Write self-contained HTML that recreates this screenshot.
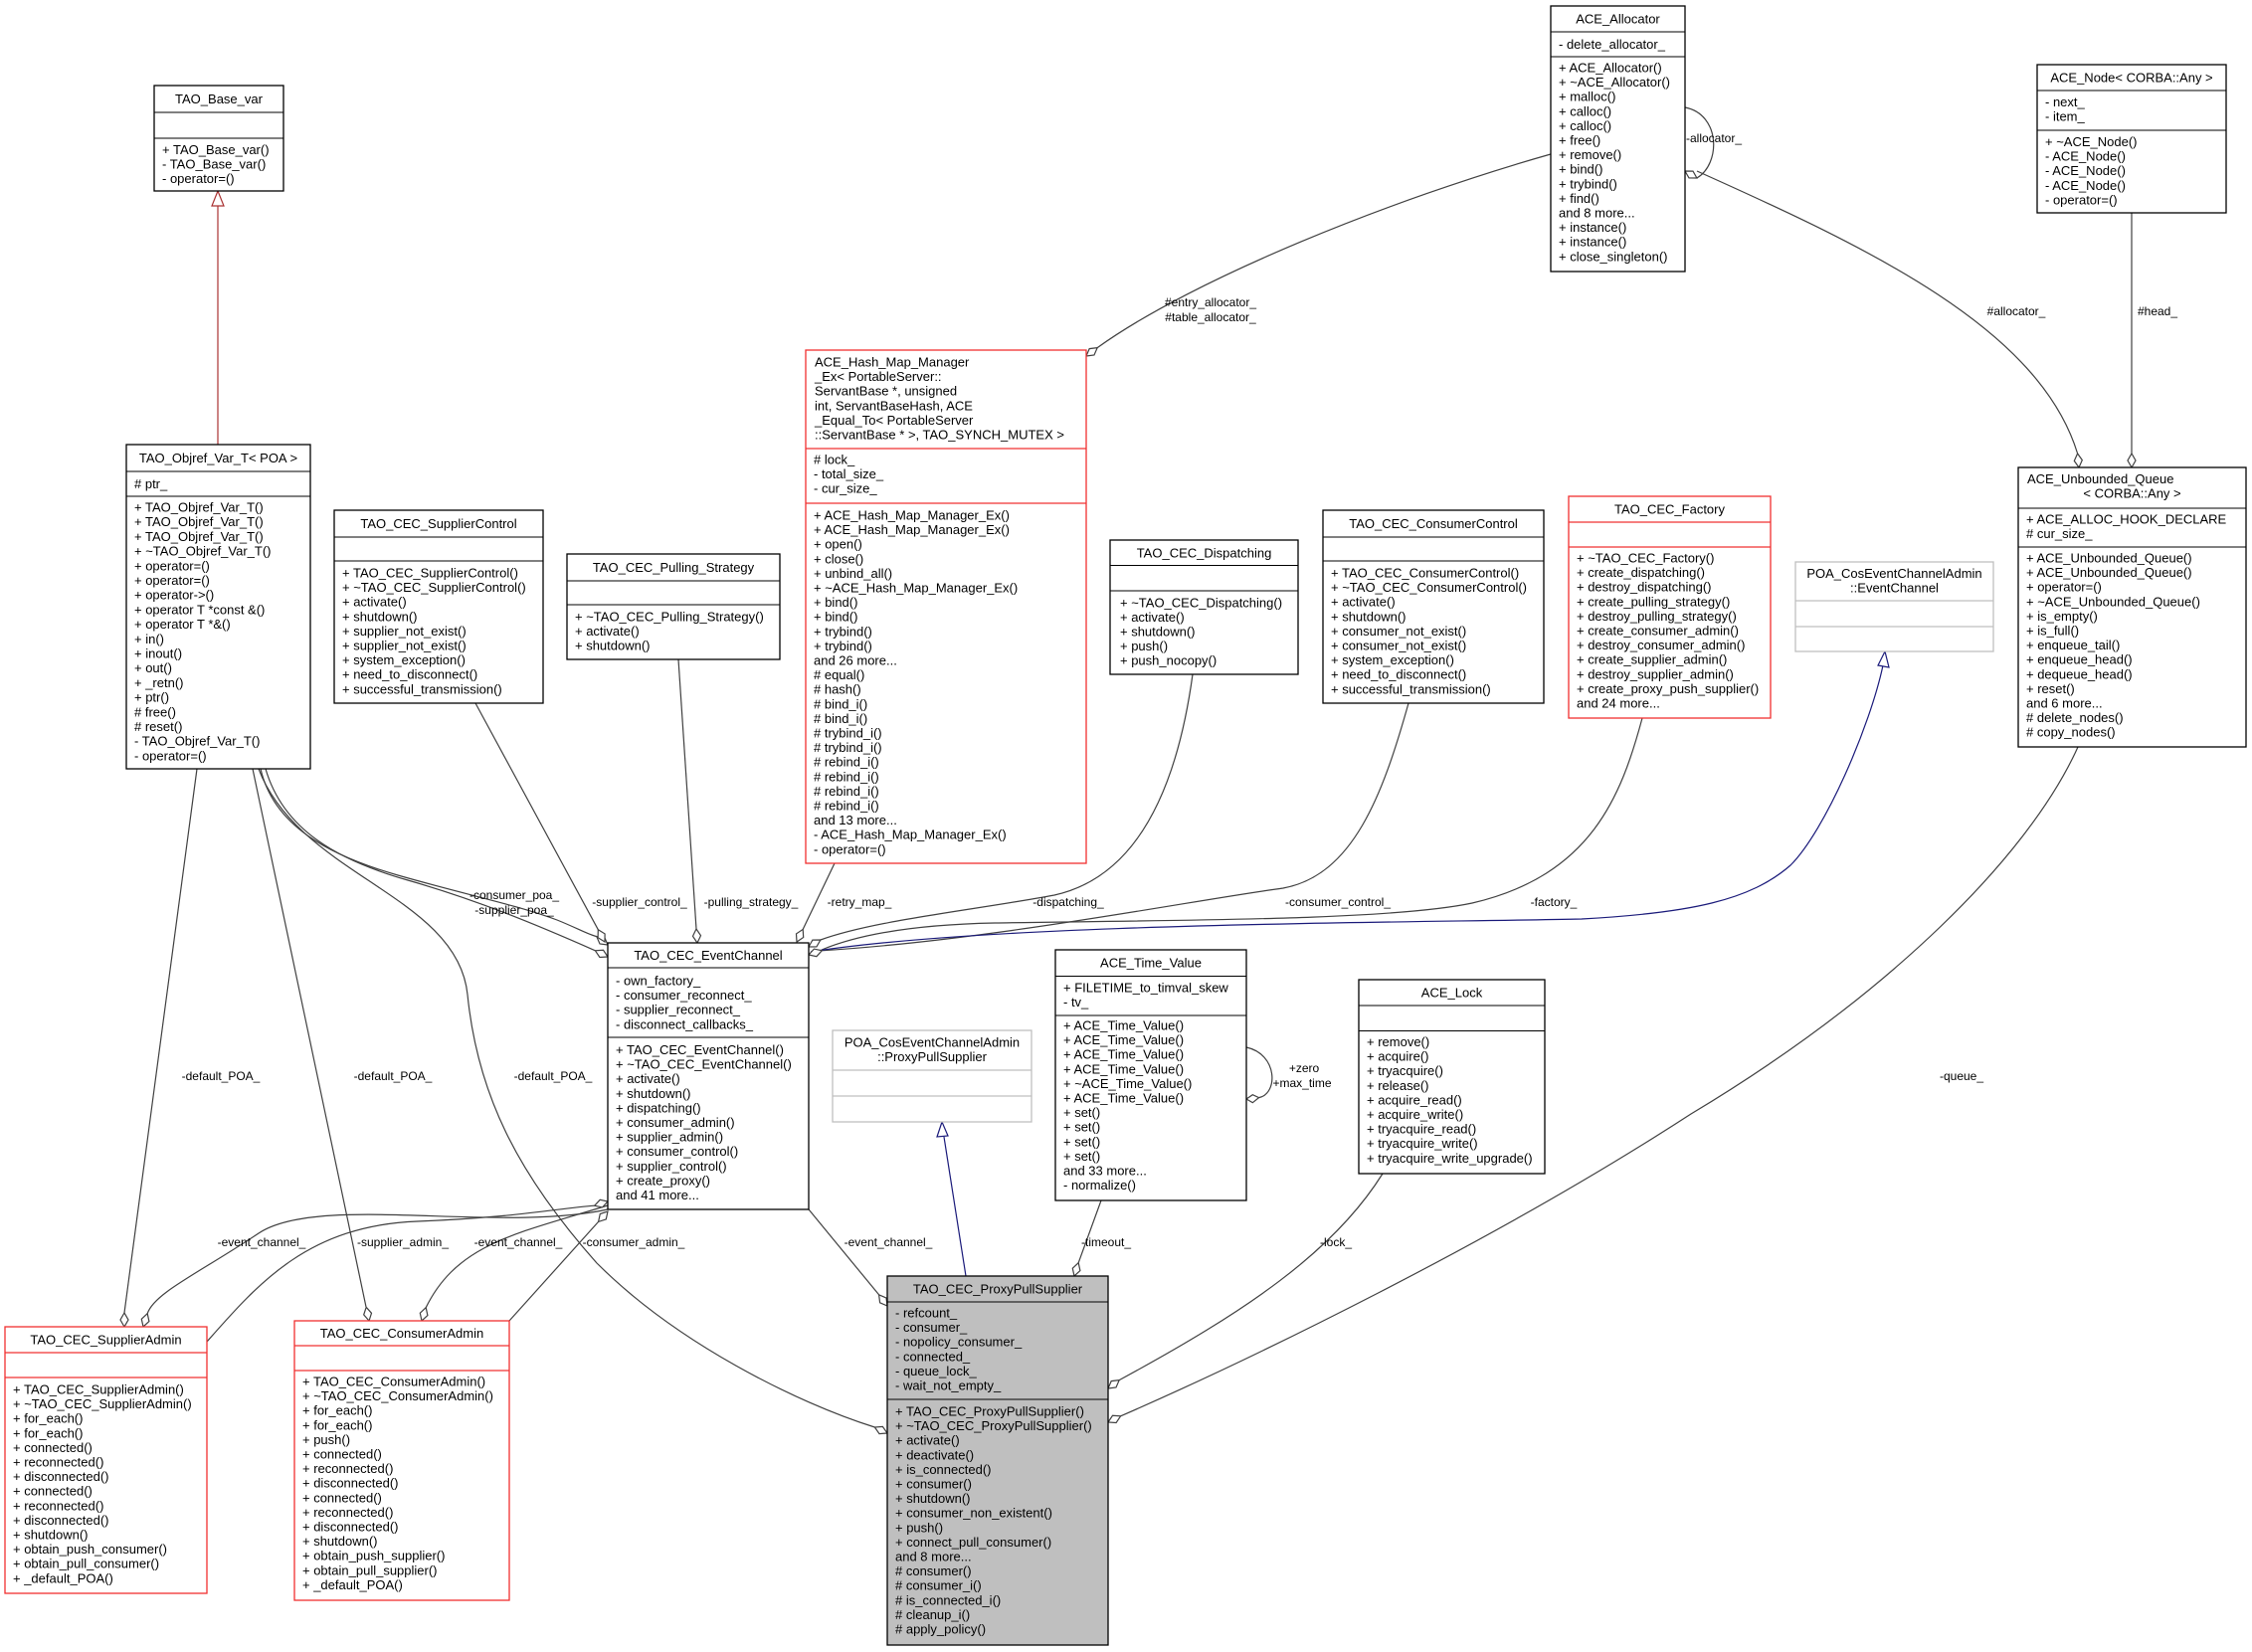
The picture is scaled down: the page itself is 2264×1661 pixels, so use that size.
<!DOCTYPE html>
<html><head><meta charset="utf-8"><style>
html,body{margin:0;padding:0;background:#fff}
svg text{font-family:"Liberation Sans",Arial,sans-serif;font-size:13px;fill:#000}
.e{fill:none;stroke:#404040;stroke-width:1.2}
.d{fill:#fff;stroke:#404040;stroke-width:1.2}
.b{fill:#fff;stroke:#000;stroke-width:1.3}
.r{fill:#fff;stroke:#f03030;stroke-width:1.3}
.g{fill:#fff;stroke:#bfbfbf;stroke-width:1.3}
.l{font-size:12px}
</style></head><body>
<svg width="2264" height="1656" viewBox="0 0 2264 1656" xmlns="http://www.w3.org/2000/svg">
<!-- edges -->
<path class="e" d="M262,773 C275,830 330,860 400,880 C470,900 520,910 560,925 C580,933 592,940 599.8,941.6"/>
<path class="e" d="M267,773 C285,835 340,865 410,885 C480,905 540,930 598.4,955.8"/>
<path class="e" d="M198,773 L125,1320"/>
<path class="e" d="M254,773 L368,1314"/>
<path class="e" d="M260,773 C300,880 460,900 470,1000 C480,1100 520,1180 600,1270 C680,1350 800,1410 879.4,1435"/>
<path class="e" d="M478,707 L601.3,934.7"/>
<path class="e" d="M682,663 L700,934"/>
<path class="e" d="M839,868 L807.2,934.4"/>
<path class="e" d="M1199,678 C1185,780 1150,880 1060,900 C980,915 880,925 824.9,945"/>
<path class="e" d="M1416,707 C1390,800 1360,880 1290,893 C1200,905 1000,945 826,955.8"/>
<path class="e" d="M1651,722 C1630,800 1600,880 1480,908 C1400,925 1200,925 1000,928 C900,930 850,945 826,955"/>
<path d="M815,957 C1000,928 1400,928 1590,924 C1700,918 1760,905 1800,870 C1835,835 1880,730 1893,669" fill="none" stroke="#1a1a7a" stroke-width="1.2"/>
<path class="e" d="M813,1216 L883.6,1301.8"/>
<path class="e" d="M1107,1207 L1084.2,1269.7"/>
<path class="e" d="M1390,1180 C1340,1260 1250,1320 1125.2,1387.6"/>
<path class="e" d="M2089,751 C2040,860 1900,1000 1700,1120 C1500,1250 1250,1370 1126.6,1423.8"/>
<path class="e" d="M1253,1053 C1285,1060 1285,1100 1265.6,1103.6"/>
<path d="M971,1283 L949,1143" fill="none" stroke="#1a1a7a" stroke-width="1.2"/>
<path class="e" d="M611,1216 C500,1240 320,1200 260,1240 C200,1280 155,1300 148.2,1320.7"/>
<path class="e" d="M208,1349 C260,1290 310,1232 420,1228 C520,1224 560,1215 597.7,1212.2"/>
<path class="e" d="M611,1212 C520,1240 460,1250 428.2,1314.7"/>
<path class="e" d="M512,1328 L601.6,1228.4"/>
<path class="e" d="M1559,155 C1400,200 1200,280 1103.2,349.6"/>
<path class="e" d="M1694,108 C1730,115 1730,165 1705.9,179"/>
<path class="e" d="M1706,172 C1880,250 2050,330 2088.6,456"/>
<path class="e" d="M2143,214 L2143,456"/>
<path d="M219,447 L219,207" fill="none" stroke="#a33" stroke-width="1.2"/>
<!-- inheritance arrows -->
<polygon points="219,192 213,207 225,207" fill="#fff" stroke="#a33" stroke-width="1.2"/>
<polygon points="1895,655 1888,669 1899,671" fill="#fff" stroke="#1a1a7a" stroke-width="1.2"/>
<polygon points="947,1128 942,1143 953,1142" fill="#fff" stroke="#1a1a7a" stroke-width="1.2"/>
<!-- diamonds -->
<polygon class="d" points="611,950 603,949 599.8,941.6 607.8,942.6"/>
<polygon class="d" points="611,962 602.9,962.5 598.4,955.8 606.5,955.3"/>
<polygon class="d" points="608,947 601.1,942.7 601.3,934.7 608.1,938.9"/>
<polygon class="d" points="701,948 696.5,941.3 700,934 704.5,940.7"/>
<polygon class="d" points="801,947 800.5,938.9 807.2,934.4 807.7,942.5"/>
<polygon class="d" points="813,952 816.9,945.1 824.9,945 820.9,951.9"/>
<polygon class="d" points="813,960 818.4,954.1 826.3,955.8 820.9,961.7"/>
<polygon class="d" points="125,1334 121,1327 125,1320 129,1327"/>
<polygon class="d" points="144,1334 142.3,1326.2 148.2,1320.7 149.9,1328.6"/>
<polygon class="d" points="371,1328 365.7,1321.9 368.2,1314.3 373.5,1320.3"/>
<polygon class="d" points="424,1328 422.3,1320.2 428.2,1314.7 429.9,1322.6"/>
<polygon class="d" points="611,1208 605.6,1213.9 597.7,1212.2 603.2,1206.3"/>
<polygon class="d" points="611,1218 609.3,1225.9 601.6,1228.4 603.3,1220.5"/>
<polygon class="d" points="892,1441 884,1441.6 879.4,1435 887.4,1434.4"/>
<polygon class="d" points="892,1313 884.6,1309.8 883.6,1301.8 891,1305"/>
<polygon class="d" points="1080,1283 1078.3,1275.2 1084.2,1269.7 1085.9,1277.6"/>
<polygon class="d" points="1114,1396 1117.2,1388.6 1125.2,1387.6 1122,1395"/>
<polygon class="d" points="1114,1430 1118.5,1423.3 1126.6,1423.8 1122.1,1430.5"/>
<polygon class="d" points="1253,1105 1259.3,1100.7 1265.6,1103.6 1259.3,1108.7"/>
<polygon class="d" points="1092,358 1095.2,350.6 1103.2,349.6 1100,357"/>
<polygon class="d" points="1694,172 1702,172.1 1705.9,179 1698,178.9"/>
<polygon class="d" points="2090,470 2085.3,463.4 2088.6,456 2093.3,462.6"/>
<polygon class="d" points="2143,470 2139,463 2143,456 2147,463"/>
<!-- edge labels -->
<g class="l" text-anchor="middle">
<text class="l" x="517" y="904">-consumer_poa_</text>
<text class="l" x="517" y="919">-supplier_poa_</text>
<text class="l" x="643" y="911">-supplier_control_</text>
<text class="l" x="755" y="911">-pulling_strategy_</text>
<text class="l" x="864" y="911">-retry_map_</text>
<text class="l" x="1074" y="911">-dispatching_</text>
<text class="l" x="1345" y="911">-consumer_control_</text>
<text class="l" x="1562" y="911">-factory_</text>
<text class="l" x="222" y="1086">-default_POA_</text>
<text class="l" x="395" y="1086">-default_POA_</text>
<text class="l" x="556" y="1086">-default_POA_</text>
<text class="l" x="263" y="1253">-event_channel_</text>
<text class="l" x="405" y="1253">-supplier_admin_</text>
<text class="l" x="521" y="1253">-event_channel_</text>
<text class="l" x="637" y="1253">-consumer_admin_</text>
<text class="l" x="893" y="1253">-event_channel_</text>
<text class="l" x="1112" y="1253">-timeout_</text>
<text class="l" x="1343" y="1253">-lock_</text>
<text class="l" x="1972" y="1086">-queue_</text>
<text class="l" x="1311" y="1078">+zero</text>
<text class="l" x="1309" y="1093">+max_time</text>
<text class="l" x="1217" y="308">#entry_allocator_</text>
<text class="l" x="1217" y="323">#table_allocator_</text>
<text class="l" x="2027" y="317">#allocator_</text>
<text class="l" x="2169" y="317">#head_</text>
<text class="l" x="1723" y="143">-allocator_</text>
</g>

<!-- TAO_Base_var -->
<rect class="b" x="155" y="86" width="130" height="106"/><line x1="155" y1="113" x2="285" y2="113" stroke="#000"/><line x1="155" y1="139" x2="285" y2="139" stroke="#000"/>
<text x="220" y="104" text-anchor="middle">TAO_Base_var</text>
<text x="163" y="155">+ TAO_Base_var()</text><text x="163" y="169.6">- TAO_Base_var()</text><text x="163" y="184.2">- operator=()</text>

<!-- TAO_Objref_Var_T -->
<rect class="b" x="127" y="447" width="185" height="326"/><line x1="127" y1="474" x2="312" y2="474" stroke="#000"/><line x1="127" y1="499" x2="312" y2="499" stroke="#000"/>
<text x="219.5" y="465" text-anchor="middle">TAO_Objref_Var_T&lt; POA &gt;</text>
<text x="135" y="491"># ptr_</text>
<g transform="translate(135,514.5)">
<text y="0">+ TAO_Objref_Var_T()</text><text y="14.7">+ TAO_Objref_Var_T()</text><text y="29.4">+ TAO_Objref_Var_T()</text><text y="44.1">+ ~TAO_Objref_Var_T()</text><text y="58.8">+ operator=()</text><text y="73.5">+ operator=()</text><text y="88.2">+ operator-&gt;()</text><text y="102.9">+ operator T *const &amp;()</text><text y="117.6">+ operator T *&amp;()</text><text y="132.3">+ in()</text><text y="147">+ inout()</text><text y="161.7">+ out()</text><text y="176.4">+ _retn()</text><text y="191.1">+ ptr()</text><text y="205.8"># free()</text><text y="220.5"># reset()</text><text y="235.2">- TAO_Objref_Var_T()</text><text y="249.9">- operator=()</text>
</g>

<!-- SupplierControl -->
<rect class="b" x="336" y="513" width="210" height="194"/><line x1="336" y1="540" x2="546" y2="540" stroke="#000"/><line x1="336" y1="564" x2="546" y2="564" stroke="#000"/>
<text x="441" y="531" text-anchor="middle">TAO_CEC_SupplierControl</text>
<g transform="translate(344,580.5)">
<text y="0">+ TAO_CEC_SupplierControl()</text><text y="14.6">+ ~TAO_CEC_SupplierControl()</text><text y="29.2">+ activate()</text><text y="43.8">+ shutdown()</text><text y="58.4">+ supplier_not_exist()</text><text y="73">+ supplier_not_exist()</text><text y="87.6">+ system_exception()</text><text y="102.2">+ need_to_disconnect()</text><text y="116.8">+ successful_transmission()</text>
</g>

<!-- Pulling Strategy -->
<rect class="b" x="570" y="557" width="214" height="106"/><line x1="570" y1="584" x2="784" y2="584" stroke="#000"/><line x1="570" y1="608" x2="784" y2="608" stroke="#000"/>
<text x="677" y="575" text-anchor="middle">TAO_CEC_Pulling_Strategy</text>
<g transform="translate(578,624.5)"><text y="0">+ ~TAO_CEC_Pulling_Strategy()</text><text y="14.6">+ activate()</text><text y="29.2">+ shutdown()</text></g>

<!-- Hash map -->
<rect class="r" x="810" y="352" width="282" height="516"/><line x1="810" y1="451" x2="1092" y2="451" stroke="#f03030" stroke-width="1.3"/><line x1="810" y1="506" x2="1092" y2="506" stroke="#f03030" stroke-width="1.3"/>
<g transform="translate(819,368.5)"><text y="0">ACE_Hash_Map_Manager</text><text y="14.6">_Ex&lt; PortableServer::</text><text y="29.2">ServantBase *, unsigned</text><text y="43.8"> int, ServantBaseHash, ACE</text><text y="58.4">_Equal_To&lt; PortableServer</text><text y="73">::ServantBase * &gt;, TAO_SYNCH_MUTEX &gt;</text></g>
<g transform="translate(818,466.5)"><text y="0"># lock_</text><text y="14.6">- total_size_</text><text y="29.2">- cur_size_</text></g>
<g transform="translate(818,522.5)">
<text y="0">+ ACE_Hash_Map_Manager_Ex()</text><text y="14.6">+ ACE_Hash_Map_Manager_Ex()</text><text y="29.2">+ open()</text><text y="43.8">+ close()</text><text y="58.4">+ unbind_all()</text><text y="73">+ ~ACE_Hash_Map_Manager_Ex()</text><text y="87.6">+ bind()</text><text y="102.2">+ bind()</text><text y="116.8">+ trybind()</text><text y="131.4">+ trybind()</text><text y="146">and 26 more...</text><text y="160.6"># equal()</text><text y="175.2"># hash()</text><text y="189.8"># bind_i()</text><text y="204.4"># bind_i()</text><text y="219"># trybind_i()</text><text y="233.6"># trybind_i()</text><text y="248.2"># rebind_i()</text><text y="262.8"># rebind_i()</text><text y="277.4"># rebind_i()</text><text y="292"># rebind_i()</text><text y="306.6">and 13 more...</text><text y="321.2">- ACE_Hash_Map_Manager_Ex()</text><text y="335.8">- operator=()</text>
</g>

<!-- ACE_Allocator -->
<rect class="b" x="1559" y="6" width="135" height="267"/><line x1="1559" y1="32" x2="1694" y2="32" stroke="#000"/><line x1="1559" y1="57" x2="1694" y2="57" stroke="#000"/>
<text x="1626.5" y="23.5" text-anchor="middle">ACE_Allocator</text>
<text x="1567" y="49">- delete_allocator_</text>
<g transform="translate(1567,72.5)">
<text y="0">+ ACE_Allocator()</text><text y="14.6">+ ~ACE_Allocator()</text><text y="29.2">+ malloc()</text><text y="43.8">+ calloc()</text><text y="58.4">+ calloc()</text><text y="73">+ free()</text><text y="87.6">+ remove()</text><text y="102.2">+ bind()</text><text y="116.8">+ trybind()</text><text y="131.4">+ find()</text><text y="146">and 8 more...</text><text y="160.6">+ instance()</text><text y="175.2">+ instance()</text><text y="189.8">+ close_singleton()</text>
</g>

<!-- ACE_Node -->
<rect class="b" x="2048" y="65" width="190" height="149"/><line x1="2048" y1="91" x2="2238" y2="91" stroke="#000"/><line x1="2048" y1="131" x2="2238" y2="131" stroke="#000"/>
<text x="2143" y="82.5" text-anchor="middle">ACE_Node&lt; CORBA::Any &gt;</text>
<text x="2056" y="107">- next_</text><text x="2056" y="121.5">- item_</text>
<g transform="translate(2056,147)"><text y="0">+ ~ACE_Node()</text><text y="14.6">- ACE_Node()</text><text y="29.2">- ACE_Node()</text><text y="43.8">- ACE_Node()</text><text y="58.4">- operator=()</text></g>

<!-- ACE_Unbounded_Queue -->
<rect class="b" x="2029" y="470" width="229" height="281"/><line x1="2029" y1="511" x2="2258" y2="511" stroke="#000"/><line x1="2029" y1="550" x2="2258" y2="550" stroke="#000"/>
<text x="2038" y="486">ACE_Unbounded_Queue</text><text x="2143.5" y="500.5" text-anchor="middle">&lt; CORBA::Any &gt;</text>
<text x="2037" y="526.5">+ ACE_ALLOC_HOOK_DECLARE</text><text x="2037" y="541"># cur_size_</text>
<g transform="translate(2037,565.5)">
<text y="0">+ ACE_Unbounded_Queue()</text><text y="14.6">+ ACE_Unbounded_Queue()</text><text y="29.2">+ operator=()</text><text y="43.8">+ ~ACE_Unbounded_Queue()</text><text y="58.4">+ is_empty()</text><text y="73">+ is_full()</text><text y="87.6">+ enqueue_tail()</text><text y="102.2">+ enqueue_head()</text><text y="116.8">+ dequeue_head()</text><text y="131.4">+ reset()</text><text y="146">and 6 more...</text><text y="160.6"># delete_nodes()</text><text y="175.2"># copy_nodes()</text>
</g>

<!-- Dispatching -->
<rect class="b" x="1116" y="543" width="189" height="135"/><line x1="1116" y1="568.5" x2="1305" y2="568.5" stroke="#000"/><line x1="1116" y1="594" x2="1305" y2="594" stroke="#000"/>
<text x="1210.5" y="560.5" text-anchor="middle">TAO_CEC_Dispatching</text>
<g transform="translate(1126,610.5)"><text y="0">+ ~TAO_CEC_Dispatching()</text><text y="14.5">+ activate()</text><text y="29">+ shutdown()</text><text y="43.5">+ push()</text><text y="58">+ push_nocopy()</text></g>

<!-- ConsumerControl -->
<rect class="b" x="1330" y="513" width="222" height="194"/><line x1="1330" y1="540" x2="1552" y2="540" stroke="#000"/><line x1="1330" y1="564" x2="1552" y2="564" stroke="#000"/>
<text x="1441" y="531" text-anchor="middle">TAO_CEC_ConsumerControl</text>
<g transform="translate(1338,580.5)">
<text y="0">+ TAO_CEC_ConsumerControl()</text><text y="14.6">+ ~TAO_CEC_ConsumerControl()</text><text y="29.2">+ activate()</text><text y="43.8">+ shutdown()</text><text y="58.4">+ consumer_not_exist()</text><text y="73">+ consumer_not_exist()</text><text y="87.6">+ system_exception()</text><text y="102.2">+ need_to_disconnect()</text><text y="116.8">+ successful_transmission()</text>
</g>

<!-- Factory -->
<rect class="r" x="1577" y="499" width="203" height="223"/><line x1="1577" y1="525" x2="1780" y2="525" stroke="#f03030" stroke-width="1.3"/><line x1="1577" y1="550" x2="1780" y2="550" stroke="#f03030" stroke-width="1.3"/>
<text x="1678.5" y="516.5" text-anchor="middle">TAO_CEC_Factory</text>
<g transform="translate(1585,565.5)">
<text y="0">+ ~TAO_CEC_Factory()</text><text y="14.6">+ create_dispatching()</text><text y="29.2">+ destroy_dispatching()</text><text y="43.8">+ create_pulling_strategy()</text><text y="58.4">+ destroy_pulling_strategy()</text><text y="73">+ create_consumer_admin()</text><text y="87.6">+ destroy_consumer_admin()</text><text y="102.2">+ create_supplier_admin()</text><text y="116.8">+ destroy_supplier_admin()</text><text y="131.4">+ create_proxy_push_supplier()</text><text y="146">and 24 more...</text>
</g>

<!-- POA EventChannel -->
<rect class="g" x="1805" y="565" width="199" height="90"/><line x1="1805" y1="604" x2="2004" y2="604" stroke="#bfbfbf" stroke-width="1.3"/><line x1="1805" y1="630" x2="2004" y2="630" stroke="#bfbfbf" stroke-width="1.3"/>
<text x="1904.5" y="581" text-anchor="middle">POA_CosEventChannelAdmin</text><text x="1904.5" y="595.5" text-anchor="middle">::EventChannel</text>

<!-- EventChannel -->
<rect class="b" x="611" y="948" width="202" height="268"/><line x1="611" y1="973" x2="813" y2="973" stroke="#000"/><line x1="611" y1="1043" x2="813" y2="1043" stroke="#000"/>
<text x="712" y="965" text-anchor="middle">TAO_CEC_EventChannel</text>
<g transform="translate(619,990.5)"><text y="0">- own_factory_</text><text y="14.6">- consumer_reconnect_</text><text y="29.2">- supplier_reconnect_</text><text y="43.8">- disconnect_callbacks_</text></g>
<g transform="translate(619,1060)">
<text y="0">+ TAO_CEC_EventChannel()</text><text y="14.6">+ ~TAO_CEC_EventChannel()</text><text y="29.2">+ activate()</text><text y="43.8">+ shutdown()</text><text y="58.4">+ dispatching()</text><text y="73">+ consumer_admin()</text><text y="87.6">+ supplier_admin()</text><text y="102.2">+ consumer_control()</text><text y="116.8">+ supplier_control()</text><text y="131.4">+ create_proxy()</text><text y="146">and 41 more...</text>
</g>

<!-- POA ProxyPullSupplier -->
<rect class="g" x="837" y="1036" width="200" height="92"/><line x1="837" y1="1076" x2="1037" y2="1076" stroke="#bfbfbf" stroke-width="1.3"/><line x1="837" y1="1102" x2="1037" y2="1102" stroke="#bfbfbf" stroke-width="1.3"/>
<text x="937" y="1052.5" text-anchor="middle">POA_CosEventChannelAdmin</text><text x="937" y="1067" text-anchor="middle">::ProxyPullSupplier</text>

<!-- SupplierAdmin -->
<rect class="r" x="5" y="1334" width="203" height="268"/><line x1="5" y1="1360" x2="208" y2="1360" stroke="#f03030" stroke-width="1.3"/><line x1="5" y1="1385" x2="208" y2="1385" stroke="#f03030" stroke-width="1.3"/>
<text x="106.5" y="1351.5" text-anchor="middle">TAO_CEC_SupplierAdmin</text>
<g transform="translate(13,1401.5)">
<text y="0">+ TAO_CEC_SupplierAdmin()</text><text y="14.6">+ ~TAO_CEC_SupplierAdmin()</text><text y="29.2">+ for_each()</text><text y="43.8">+ for_each()</text><text y="58.4">+ connected()</text><text y="73">+ reconnected()</text><text y="87.6">+ disconnected()</text><text y="102.2">+ connected()</text><text y="116.8">+ reconnected()</text><text y="131.4">+ disconnected()</text><text y="146">+ shutdown()</text><text y="160.6">+ obtain_push_consumer()</text><text y="175.2">+ obtain_pull_consumer()</text><text y="189.8">+ _default_POA()</text>
</g>

<!-- ConsumerAdmin -->
<rect class="r" x="296" y="1328" width="216" height="281"/><line x1="296" y1="1353" x2="512" y2="1353" stroke="#f03030" stroke-width="1.3"/><line x1="296" y1="1378" x2="512" y2="1378" stroke="#f03030" stroke-width="1.3"/>
<text x="404" y="1345" text-anchor="middle">TAO_CEC_ConsumerAdmin</text>
<g transform="translate(304,1393.5)">
<text y="0">+ TAO_CEC_ConsumerAdmin()</text><text y="14.6">+ ~TAO_CEC_ConsumerAdmin()</text><text y="29.2">+ for_each()</text><text y="43.8">+ for_each()</text><text y="58.4">+ push()</text><text y="73">+ connected()</text><text y="87.6">+ reconnected()</text><text y="102.2">+ disconnected()</text><text y="116.8">+ connected()</text><text y="131.4">+ reconnected()</text><text y="146">+ disconnected()</text><text y="160.6">+ shutdown()</text><text y="175.2">+ obtain_push_supplier()</text><text y="189.8">+ obtain_pull_supplier()</text><text y="204.4">+ _default_POA()</text>
</g>

<!-- ProxyPullSupplier -->
<rect x="892" y="1283" width="222" height="371" fill="#bfbfbf" stroke="#000" stroke-width="1.3"/><line x1="892" y1="1309" x2="1114" y2="1309" stroke="#000"/><line x1="892" y1="1407" x2="1114" y2="1407" stroke="#000"/>
<text x="1003" y="1300.5" text-anchor="middle">TAO_CEC_ProxyPullSupplier</text>
<g transform="translate(900,1324.5)"><text y="0">- refcount_</text><text y="14.6">- consumer_</text><text y="29.2">- nopolicy_consumer_</text><text y="43.8">- connected_</text><text y="58.4">- queue_lock_</text><text y="73">- wait_not_empty_</text></g>
<g transform="translate(900,1423.5)">
<text y="0">+ TAO_CEC_ProxyPullSupplier()</text><text y="14.6">+ ~TAO_CEC_ProxyPullSupplier()</text><text y="29.2">+ activate()</text><text y="43.8">+ deactivate()</text><text y="58.4">+ is_connected()</text><text y="73">+ consumer()</text><text y="87.6">+ shutdown()</text><text y="102.2">+ consumer_non_existent()</text><text y="116.8">+ push()</text><text y="131.4">+ connect_pull_consumer()</text><text y="146">and 8 more...</text><text y="160.6"># consumer()</text><text y="175.2"># consumer_i()</text><text y="189.8"># is_connected_i()</text><text y="204.4"># cleanup_i()</text><text y="219"># apply_policy()</text>
</g>

<!-- Time_Value -->
<rect class="b" x="1061" y="955" width="192" height="252"/><line x1="1061" y1="981.5" x2="1253" y2="981.5" stroke="#000"/><line x1="1061" y1="1021" x2="1253" y2="1021" stroke="#000"/>
<text x="1157" y="972.5" text-anchor="middle">ACE_Time_Value</text>
<text x="1069" y="997.5">+ FILETIME_to_timval_skew</text><text x="1069" y="1012">- tv_</text>
<g transform="translate(1069,1035.5)">
<text y="0">+ ACE_Time_Value()</text><text y="14.6">+ ACE_Time_Value()</text><text y="29.2">+ ACE_Time_Value()</text><text y="43.8">+ ACE_Time_Value()</text><text y="58.4">+ ~ACE_Time_Value()</text><text y="73">+ ACE_Time_Value()</text><text y="87.6">+ set()</text><text y="102.2">+ set()</text><text y="116.8">+ set()</text><text y="131.4">+ set()</text><text y="146">and 33 more...</text><text y="160.6">- normalize()</text>
</g>

<!-- ACE_Lock -->
<rect class="b" x="1366" y="985" width="187" height="195"/><line x1="1366" y1="1011" x2="1553" y2="1011" stroke="#000"/><line x1="1366" y1="1036.5" x2="1553" y2="1036.5" stroke="#000"/>
<text x="1459.5" y="1002.5" text-anchor="middle">ACE_Lock</text>
<g transform="translate(1374,1052)">
<text y="0">+ remove()</text><text y="14.6">+ acquire()</text><text y="29.2">+ tryacquire()</text><text y="43.8">+ release()</text><text y="58.4">+ acquire_read()</text><text y="73">+ acquire_write()</text><text y="87.6">+ tryacquire_read()</text><text y="102.2">+ tryacquire_write()</text><text y="116.8">+ tryacquire_write_upgrade()</text>
</g>
</svg>
</body></html>
